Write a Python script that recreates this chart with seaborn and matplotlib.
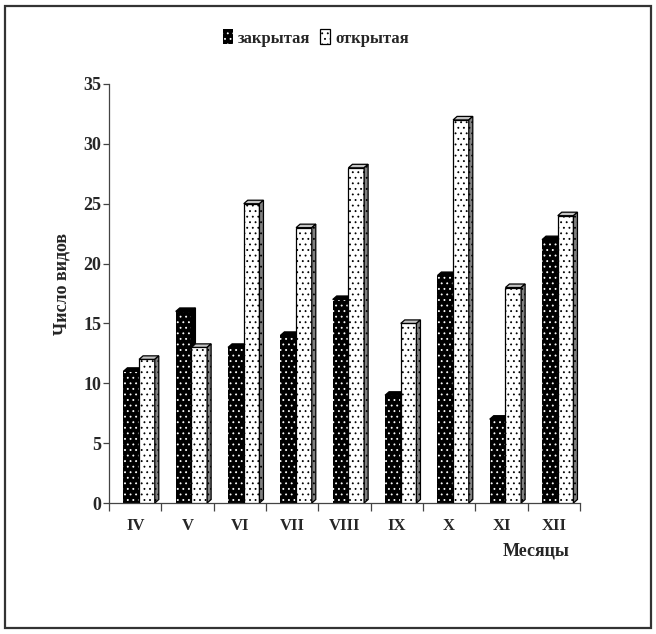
import numpy as np
import pandas as pd
import matplotlib
matplotlib.use("Agg")
import matplotlib.pyplot as plt
import seaborn as sns
from matplotlib.patches import Polygon, Rectangle, Patch

# ---- data ----
months = ["IV", "V", "VI", "VII", "VIII", "IX", "X", "XI", "XII"]
closed = [11, 16, 13, 14, 17, 9, 19, 7, 22]
opened = [12, 13, 25, 23, 28, 15, 32, 18, 24]
series_names = ["закрытая", "открытая"]
y_ticks = [0, 5, 10, 15, 20, 25, 30, 35]
x_label = "Месяцы"
y_label = "Число видов"

df = pd.DataFrame({
    "month": months * 2,
    "value": closed + opened,
    "type": [series_names[0]] * len(months) + [series_names[1]] * len(months),
})

sns.set_theme(style="white")
plt.rcParams["font.family"] = ["Liberation Serif", "DejaVu Serif"]
plt.rcParams["font.weight"] = "bold"
plt.rcParams["hatch.linewidth"] = 0.6

W, H = 656, 634
fig = plt.figure(figsize=(W / 100, H / 100), dpi=100)
fig.patch.set_facecolor("white")
ax_l, ax_r, ax_t, ax_b = 109, 580, 84, 503
ax = fig.add_axes([ax_l / W, 1 - ax_b / H, (ax_r - ax_l) / W, (ax_b - ax_t) / H])

sns.barplot(data=df, x="month", y="value", hue="type", order=months,
            hue_order=series_names, palette=["black", "white"], width=0.6,
            saturation=1, legend=False, ax=ax)

ax.set_xlim(-0.5, len(months) - 0.5)
ax.set_ylim(0, 35)

# 3D depth in data units (about 4 px right, 3.5 px up)
dx = 4 * len(months) / (ax_r - ax_l)
dy = 3.5 * 35 / (ax_b - ax_t)
shift = 0.075

for i, cont in enumerate(ax.containers):
    for bar in cont:
        x0 = bar.get_x() + shift
        bar.set_x(x0)
        w = bar.get_width()
        h = bar.get_height()
        if i == 0:
            bar.set_facecolor("black")
            bar.set_edgecolor("white")
            bar.set_linewidth(0)
            bar.set_hatch("...")
            bar.set_zorder(2)
            top_fc, side_fc, ec, z = "black", "black", "black", 2
        else:
            bar.set_facecolor("white")
            bar.set_edgecolor("black")
            bar.set_linewidth(0.9)
            bar.set_hatch("...")
            bar.set_zorder(3)
            top_fc, side_fc, ec, z = "#c4c4c4", "#808080", "black", 3
        top = Polygon([(x0, h), (x0 + w, h), (x0 + w + dx, h + dy), (x0 + dx, h + dy)],
                      closed=True, facecolor=top_fc, edgecolor=ec, lw=0.9, zorder=z)
        side = Polygon([(x0 + w, 0), (x0 + w + dx, dy), (x0 + w + dx, h + dy), (x0 + w, h)],
                       closed=True, facecolor=side_fc, edgecolor=ec, lw=0.9, zorder=z,
                       hatch="..." if i == 1 else None)
        ax.add_patch(top)
        ax.add_patch(side)

# axes styling
for s in ["top", "right"]:
    ax.spines[s].set_visible(False)
for s in ["left", "bottom"]:
    ax.spines[s].set_color("#444444")
    ax.spines[s].set_linewidth(0.9)

ax.set_yticks(y_ticks)
ax.set_yticklabels([str(v) for v in y_ticks], fontsize=13, fontweight="bold")
ax.tick_params(axis="y", direction="out", length=4, width=0.9, color="#444444", pad=1.5, left=True)
ax.set_xticks(range(len(months)))
ax.set_xticklabels(months, fontsize=12, fontweight="bold")
ax.set_xticks(np.arange(-0.5, len(months), 1.0), minor=True)
ax.tick_params(axis="x", which="major", length=0, pad=11, bottom=True)
ax.tick_params(axis="x", which="minor", direction="out", length=6, width=0.9,
               color="#444444", bottom=True)

ax.set_xlabel(x_label, fontsize=13, fontweight="bold")
ax.xaxis.label.set_va("center")
ax.xaxis.set_label_coords((536 - ax_l) / (ax_r - ax_l), (ax_b - 551) / (ax_b - ax_t))
ax.set_ylabel(y_label, fontsize=13, fontweight="bold")
ax.yaxis.label.set_va("center")
ax.yaxis.set_label_coords((62 - ax_l) / (ax_r - ax_l), (ax_b - 284) / (ax_b - ax_t))
ax.grid(False)

handles = [
    Patch(facecolor="black", edgecolor="white", linewidth=0, hatch="..."),
    Patch(facecolor="white", edgecolor="black", linewidth=0.9, hatch="..."),
]
fig.legend(handles, series_names, loc="center", bbox_to_anchor=(316 / W, 1 - 38 / H),
           ncol=2, frameon=False, handlelength=0.6, handleheight=1.0,
           handletextpad=0.3, columnspacing=0.6,
           prop={"family": "Liberation Serif", "weight": "bold", "size": 12})

fig.add_artist(Rectangle((5 / W, 6 / H), (651 - 5) / W, (628 - 6) / H,
                         transform=fig.transFigure, fill=False,
                         edgecolor="#333333", linewidth=1.6))

fig.savefig("out.png", dpi=100, facecolor="white")
